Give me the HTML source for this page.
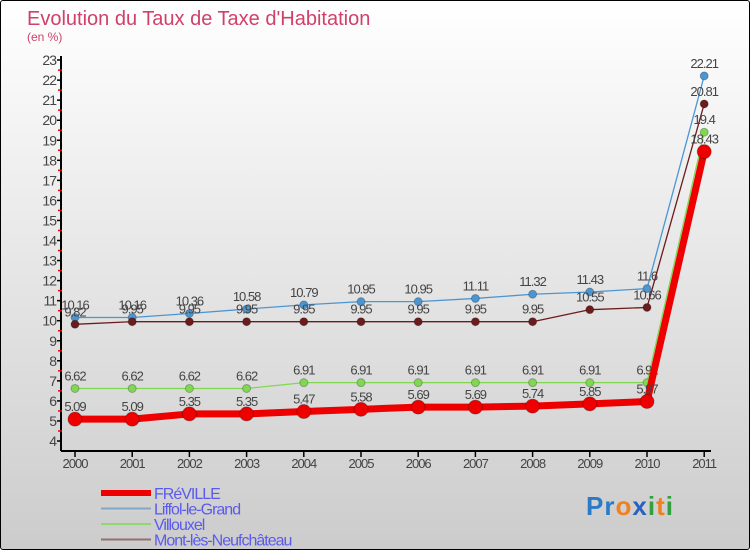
<!DOCTYPE html>
<html><head><meta charset="utf-8"><style>
body{margin:0;}
#c{width:748px;height:548px;border:1px solid #000;border-radius:3px;position:relative;overflow:hidden;background:linear-gradient(#fff,#ccc);font-family:"Liberation Sans",sans-serif;}
</style></head><body>
<div id="c">
<svg id="s" width="748" height="548" style="position:absolute;left:0;top:0"></svg>
</div>
<script>
const years=["2000","2001","2002","2003","2004","2005","2006","2007","2008","2009","2010","2011"];
const freville=[5.09,5.09,5.35,5.35,5.47,5.58,5.69,5.69,5.74,5.85,5.97,18.43];
const liffol=[10.16,10.16,10.36,10.58,10.79,10.95,10.95,11.11,11.32,11.43,11.6,22.21];
const villouxel=[6.62,6.62,6.62,6.62,6.91,6.91,6.91,6.91,6.91,6.91,6.91,19.4];
const mont=[9.82,9.95,9.95,9.95,9.95,9.95,9.95,9.95,9.95,10.55,10.66,20.81];
const yTicks=[4,5,6,7,8,9,10,11,12,13,14,15,16,17,18,19,20,21,22,23];
const NS="http://www.w3.org/2000/svg";
const s=document.getElementById('s');
function X(i){return 74+i*57.2;}
function Y(v){return 440-(v-4)*20.05;}
function el(t,a,txt){const e=document.createElementNS(NS,t);for(const k in a)e.setAttribute(k,a[k]);if(txt!==undefined)e.textContent=txt;s.appendChild(e);return e;}
let e;
e=el('text',{x:26,y:24,'font-size':20,fill:'#d0406a'},'Evolution du Taux de Taxe d\'Habitation');

e=el('text',{x:26,y:40,'font-size':12,fill:'#d0406a'},'(en %)');

e=el('line',{x1:60,y1:55,x2:60,y2:450,stroke:'#000','stroke-width':2});

e=el('line',{x1:60,y1:450,x2:710,y2:450,stroke:'#000','stroke-width':2});

yTicks.forEach(v=>{
 e=el('line',{x1:56,y1:Y(v),x2:61,y2:Y(v),stroke:'#000','stroke-width':1.5});
 
 if(v<23){e=el('line',{x1:57,y1:Y(v+0.5),x2:61,y2:Y(v+0.5),stroke:'#e00','stroke-width':1.5});
 }
 e=el('text',{x:55,y:Y(v)+5,'font-size':14,fill:'#444','text-anchor':'end','letter-spacing':'-1'},v);
 
});
years.forEach((y,i)=>{
 e=el('line',{x1:X(i),y1:450,x2:X(i),y2:456,stroke:'#000','stroke-width':1.5});
 
 e=el('text',{x:X(i),y:467,'font-size':13,fill:'#444','text-anchor':'middle','letter-spacing':'-1'},y);
 
});
function series(data,color,w,r,name){
 e=el('polyline',{points:data.map((v,i)=>X(i)+','+Y(v)).join(' '),fill:'none',stroke:color,'stroke-width':w,'stroke-linejoin':'round'});
 
 data.forEach((v,i)=>{
  e=el('circle',{cx:X(i),cy:Y(v),r:r,fill:color,stroke:'rgba(0,0,0,0.25)','stroke-width':1});
  
  e=el('text',{x:X(i),y:Y(v)-8,'font-size':13,fill:'#444','text-anchor':'middle','letter-spacing':'-1'},String(v));
  
 });
}
series(liffol,'#4b96d2',1.3,4,'liffol');
series(mont,'#6b1c1c',1.3,4,'mont');
series(villouxel,'#80d850',1.3,4,'villouxel');
series(freville,'#ee0000',7,7,'freville');
const leg=[['FRéVILLE','#ee0000',6],['Liffol-le-Grand','#7fa8c8',2],['Villouxel','#90d870',2],['Mont-lès-Neufchâteau','#907070',2]];
leg.forEach((l,i)=>{
 const y=492+i*15.5;
 e=el('line',{x1:100,y1:y,x2:150,y2:y,stroke:l[1],'stroke-width':l[2]});
 
 e=el('text',{x:153,y:y+6,'font-size':16,fill:'#5a5aee','letter-spacing':'-1'},l[0]);
 
});
e=el('text',{x:585,y:514,'font-size':26,'font-weight':'bold','letter-spacing':'1'});

[['P','#2a7ac8'],['r','#2a7ac8'],['o','#f08020'],['x','#2a60c0'],['i','#30a040'],['t','#f08020'],['i','#30a040']].forEach(p=>{
 const t=document.createElementNS(NS,'tspan');t.setAttribute('fill',p[1]);t.textContent=p[0];e.appendChild(t);
});
</script>
</body></html>
